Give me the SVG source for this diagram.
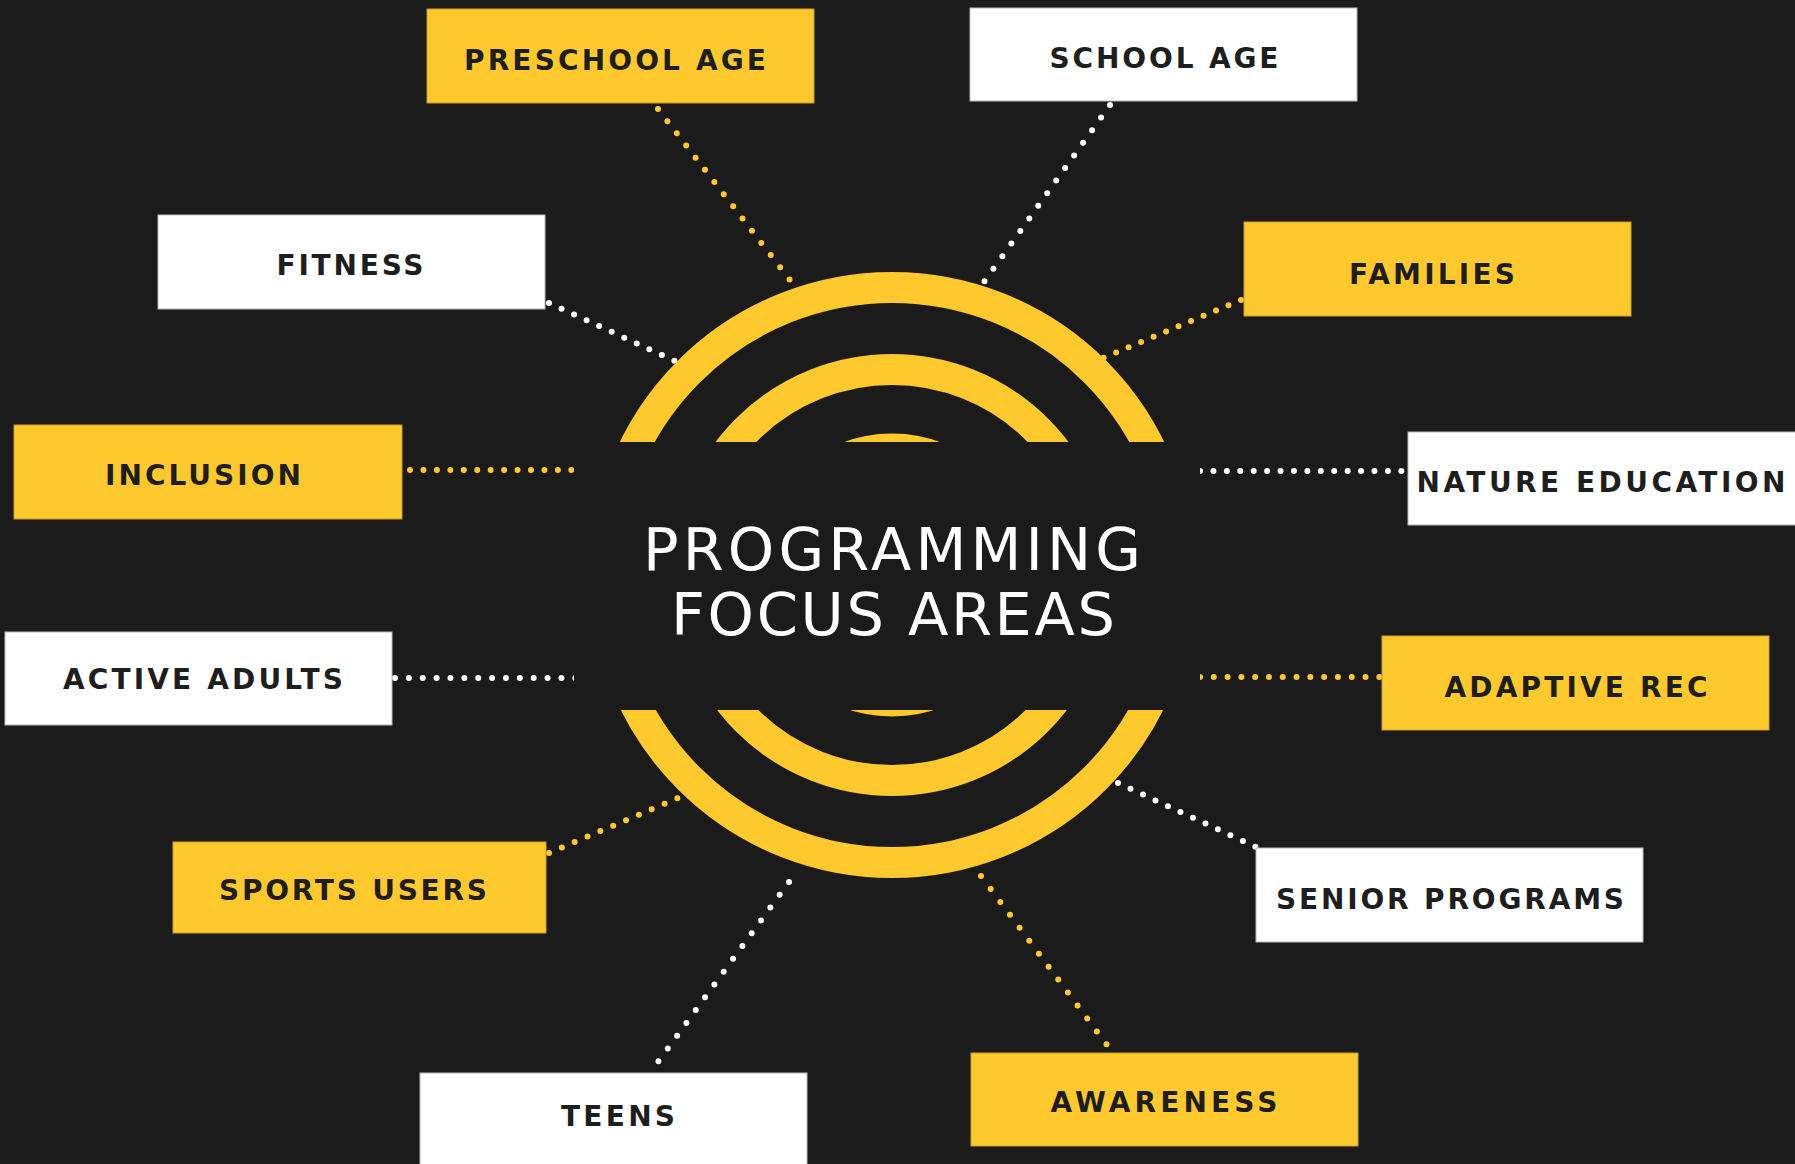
<svg xmlns="http://www.w3.org/2000/svg" width="1795" height="1164" viewBox="0 0 1795 1164">
<style>
.bg{fill:#1b1b1b}
.y{fill:#fec92c;stroke:#c9a028;stroke-width:1}
.w{fill:#ffffff;stroke:#bbbbbb;stroke-width:1}
.lbl{font-family:"DejaVu Sans","Liberation Sans",sans-serif;font-weight:bold;font-size:28px;fill:#1e1e1e;text-anchor:middle}
.title{font-family:"DejaVu Sans","Liberation Sans",sans-serif;font-size:59px;fill:#ffffff;text-anchor:middle}
.ring{fill:none;stroke:#fec92c;stroke-width:31}
.dy{stroke:#fec92c;stroke-width:6;stroke-linecap:round;stroke-dasharray:0 1;fill:none}
.dw{stroke:#ffffff;stroke-width:6;stroke-linecap:round;stroke-dasharray:0 1;fill:none}
</style>
<rect class="bg" x="0" y="0" width="1795" height="1164"/>
<g id="connectors">
<line class="dy" pathLength="14.05" x1="658" y1="109" x2="790" y2="280"/>
<line class="dw" pathLength="14.05" x1="1110" y1="105" x2="984" y2="282"/>
<line class="dw" pathLength="10.05" x1="549" y1="303" x2="675" y2="361"/>
<line class="dy" pathLength="11.05" x1="1241" y1="300" x2="1103" y2="358"/>
<line class="dy" pathLength="12.05" x1="410" y1="470" x2="572" y2="470"/>
<line class="dw" pathLength="15.05" x1="1200" y1="471" x2="1402" y2="471"/>
<line class="dw" pathLength="13.05" x1="395" y1="678" x2="576" y2="678"/>
<line class="dy" pathLength="13.05" x1="1200" y1="677" x2="1380" y2="677"/>
<line class="dy" pathLength="10.05" x1="549" y1="853" x2="678" y2="798"/>
<line class="dw" pathLength="11.05" x1="1118" y1="783" x2="1256" y2="847"/>
<line class="dw" pathLength="14.05" x1="789" y1="882" x2="658" y2="1062"/>
<line class="dy" pathLength="13.05" x1="981" y1="876" x2="1107" y2="1045"/>
</g>
<g id="center">
<circle class="ring" cx="892" cy="575" r="287.5"/>
<circle class="ring" cx="892" cy="575" r="205.5"/>
<circle class="ring" cx="892" cy="575" r="126"/>
<rect class="bg" x="574" y="442" width="626" height="268"/>
<text class="title" x="892" y="570" textLength="498">PROGRAMMING</text>
<text class="title" x="893" y="635" textLength="444">FOCUS AREAS</text>
</g>
<g id="preschool-age"><rect class="y" x="427" y="9" width="387" height="94"/><text class="lbl" x="615" y="70" textLength="302">PRESCHOOL AGE</text></g>
<g id="school-age"><rect class="w" x="970" y="8" width="387" height="93"/><text class="lbl" x="1164" y="68" textLength="229">SCHOOL AGE</text></g>
<g id="fitness"><rect class="w" x="158" y="215" width="387" height="94"/><text class="lbl" x="350" y="275" textLength="147">FITNESS</text></g>
<g id="families"><rect class="y" x="1244" y="222" width="387" height="94"/><text class="lbl" x="1432" y="284" textLength="166">FAMILIES</text></g>
<g id="inclusion"><rect class="y" x="14" y="425" width="388" height="94"/><text class="lbl" x="203" y="485" textLength="196">INCLUSION</text></g>
<g id="nature-education"><rect class="w" x="1408" y="432" width="390" height="93"/><text class="lbl" x="1601" y="492" textLength="369">NATURE EDUCATION</text></g>
<g id="active-adults"><rect class="w" x="5" y="632" width="387" height="93"/><text class="lbl" x="203" y="689" textLength="280">ACTIVE ADULTS</text></g>
<g id="adaptive-rec"><rect class="y" x="1382" y="636" width="387" height="94"/><text class="lbl" x="1576" y="697" textLength="263">ADAPTIVE REC</text></g>
<g id="sports-users"><rect class="y" x="173" y="842" width="373" height="91"/><text class="lbl" x="353" y="900" textLength="268">SPORTS USERS</text></g>
<g id="senior-programs"><rect class="w" x="1256" y="848" width="387" height="94"/><text class="lbl" x="1450" y="909" textLength="348">SENIOR PROGRAMS</text></g>
<g id="teens"><rect class="w" x="420" y="1073" width="387" height="100"/><text class="lbl" x="618" y="1126" textLength="114">TEENS</text></g>
<g id="awareness"><rect class="y" x="971" y="1053" width="387" height="93"/><text class="lbl" x="1164" y="1112" textLength="227">AWARENESS</text></g>
</svg>
